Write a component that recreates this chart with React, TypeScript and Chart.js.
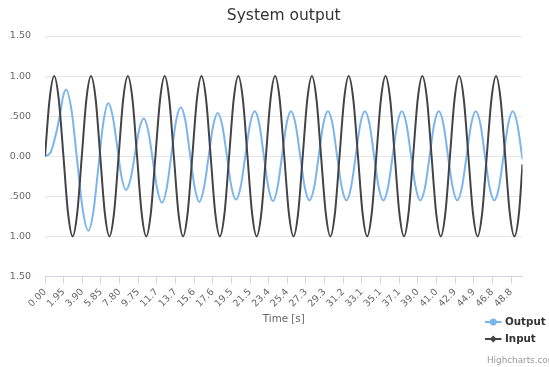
import { useEffect, useRef } from 'react';
import { Chart, registerables } from 'chart.js';

Chart.register(...registerables);

const FONT = '"DejaVu Sans", Verdana, sans-serif';

const chartTitle = 'System output';
const xAxisTitle = 'Time [s]';
const seriesNames = ['Output', 'Input'];
const seriesColors = ['#7cb5ec', '#434348'];
const creditText = 'Highcharts.com';

const xTickValues = [
  0, 1.95, 3.9, 5.85, 7.8, 9.75, 11.7, 13.65, 15.6, 17.55, 19.5, 21.45, 23.4,
  25.35, 27.3, 29.25, 31.2, 33.15, 35.1, 37.05, 39, 40.95, 42.9, 44.85, 46.8, 48.75,
];
const xTickLabels = [
  '0.00', '1.95', '3.90', '5.85', '7.80', '9.75', '11.7', '13.7', '15.6', '17.6', '19.5', '21.5', '23.4',
  '25.4', '27.3', '29.3', '31.2', '33.1', '35.1', '37.1', '39.0', '41.0', '42.9', '44.9', '46.8', '48.8',
];

const yTickValues = [-1.5, -1, -0.5, 0, 0.5, 1, 1.5];
const yTickLabels = ['1.50', '1.00', '.500', '0.00', '.500', '1.00', '1.50'];

const inputTime = [
  0, 0.48, 0.96, 1.44, 1.93, 2.41, 2.89, 3.37,
  3.85, 4.33, 4.81, 5.30, 5.78, 6.26, 6.74, 7.22,
  7.70, 8.18, 8.67, 9.15, 9.63, 10.11, 10.59, 11.07,
  11.55, 12.04, 12.52, 13.00, 13.48, 13.96, 14.44, 14.92,
  15.41, 15.89, 16.37, 16.85, 17.33, 17.81, 18.29, 18.78,
  19.26, 19.74, 20.22, 20.70, 21.18, 21.66, 22.14, 22.63,
  23.11, 23.59, 24.07, 24.55, 25.03, 25.51, 26.00, 26.48,
  26.96, 27.44, 27.92, 28.40, 28.88, 29.37, 29.85, 30.33,
  30.81, 31.29, 31.77, 32.25, 32.74, 33.22, 33.70, 34.18,
  34.66, 35.14, 35.62, 36.11, 36.59, 37.07, 37.55, 38.03,
  38.51, 38.99, 39.47, 39.96, 40.44, 40.92, 41.40, 41.88,
  42.36, 42.84, 43.33, 43.81, 44.29, 44.77, 45.25, 45.73,
  46.21, 46.70, 47.18, 47.66, 48.14, 48.62, 49.10, 49.58,
  49.95,
];
const inputValue = [
  0, 0.71, 1, 0.71, 0, -0.71, -1, -0.71,
  0, 0.71, 1, 0.71, 0, -0.71, -1, -0.71,
  0, 0.71, 1, 0.71, 0, -0.71, -1, -0.71,
  0, 0.71, 1, 0.71, 0, -0.71, -1, -0.71,
  0, 0.71, 1, 0.71, 0, -0.71, -1, -0.71,
  0, 0.71, 1, 0.71, 0, -0.71, -1, -0.71,
  0, 0.71, 1, 0.71, 0, -0.71, -1, -0.71,
  0, 0.71, 1, 0.71, 0, -0.71, -1, -0.71,
  0, 0.71, 1, 0.71, 0, -0.71, -1, -0.71,
  0, 0.71, 1, 0.71, 0, -0.71, -1, -0.71,
  0, 0.71, 1, 0.71, 0, -0.71, -1, -0.71,
  0, 0.71, 1, 0.71, 0, -0.71, -1, -0.71,
  0, 0.71, 1, 0.71, 0, -0.71, -1, -0.71,
  -0.1,
];

const outputTime = [
  0, 0.60, 1.15, 1.60, 1.90, 2.20, 2.78, 3.36, 3.95, 4.53,
  5.05, 5.58, 6.10, 6.62, 7.08, 7.55, 8.01, 8.47, 8.94, 9.40,
  9.87, 10.33, 10.81, 11.29, 11.76, 12.24, 12.73, 13.22, 13.71, 14.20,
  14.69, 15.17, 15.66, 16.14, 16.62, 17.11, 17.59, 18.07, 18.55, 19.03,
  19.50, 19.98, 20.47, 20.96, 21.45, 21.94, 22.42, 22.90, 23.37, 23.85,
  24.32, 24.79, 25.26,
  25.73, 26.21, 26.70, 27.18, 27.66, 28.15, 28.63, 29.11,
  29.60, 30.08, 30.56, 31.05, 31.53, 32.01, 32.50, 32.98,
  33.46, 33.95, 34.43, 34.91, 35.40, 35.88, 36.36, 36.85,
  37.33, 37.81, 38.30, 38.78, 39.26, 39.75, 40.23, 40.71,
  41.20, 41.68, 42.16, 42.65, 43.13, 43.61, 44.10, 44.58,
  45.06, 45.55, 46.03, 46.51, 47.00, 47.48, 47.96, 48.45,
  48.93, 49.41, 49.95,
];
const outputValue = [
  0, 0.05, 0.28, 0.54, 0.75, 0.83, 0.57, -0.05, -0.67, -0.93,
  -0.70, -0.14, 0.42, 0.66, 0.50, 0.12, -0.26, -0.42, -0.29, 0.02,
  0.34, 0.47, 0.31, -0.06, -0.42, -0.58, -0.40, 0.02, 0.44, 0.61,
  0.44, 0.02, -0.39, -0.57, -0.40, -0.01, 0.38, 0.54, 0.38, 0.00,
  -0.38, -0.54, -0.38, 0.01, 0.40, 0.56, 0.40, 0.00, -0.39, -0.56,
  -0.39, 0.00, 0.40,
  0.56, 0.40, 0.00, -0.39, -0.55, -0.39, 0.00, 0.40,
  0.56, 0.40, 0.00, -0.39, -0.55, -0.39, 0.00, 0.40,
  0.56, 0.40, 0.00, -0.39, -0.55, -0.39, 0.00, 0.40,
  0.56, 0.40, 0.00, -0.39, -0.55, -0.39, 0.00, 0.40,
  0.56, 0.40, 0.00, -0.39, -0.55, -0.39, 0.00, 0.40,
  0.56, 0.40, 0.00, -0.39, -0.55, -0.39, 0.00, 0.40,
  0.56, 0.40, -0.04,
];

const overlayPlugin = {
  id: 'overlay',
  afterDraw(chart: any) {
    const ctx = chart.ctx as CanvasRenderingContext2D;
    const area = chart.chartArea;
    ctx.save();
    // title
    ctx.font = `15.5px ${FONT}`;
    ctx.fillStyle = '#333333';
    ctx.textAlign = 'center';
    ctx.textBaseline = 'middle';
    ctx.fillText(chartTitle, (area.left + area.right) / 2, 16);

    // legend
    const lx0 = 485;
    const lx1 = 501.5;
    const rows = [322, 339];
    seriesNames.forEach((name, i) => {
      const y = rows[i];
      ctx.strokeStyle = seriesColors[i];
      ctx.lineWidth = 2;
      ctx.beginPath();
      ctx.moveTo(lx0, y);
      ctx.lineTo(lx1, y);
      ctx.stroke();
      ctx.fillStyle = seriesColors[i];
      const cx = (lx0 + lx1) / 2;
      ctx.beginPath();
      if (i === 0) {
        ctx.arc(cx, y, 3.5, 0, Math.PI * 2);
      } else {
        const r = 3.5;
        ctx.moveTo(cx, y - r);
        ctx.lineTo(cx + r, y);
        ctx.lineTo(cx, y + r);
        ctx.lineTo(cx - r, y);
        ctx.closePath();
      }
      ctx.fill();
      ctx.font = `bold 10.3px ${FONT}`;
      ctx.fillStyle = '#333333';
      ctx.textAlign = 'left';
      ctx.textBaseline = 'middle';
      ctx.fillText(name, 505, y);
    });

    // credit
    ctx.font = `8.8px ${FONT}`;
    ctx.fillStyle = '#999999';
    ctx.textAlign = 'left';
    ctx.textBaseline = 'middle';
    ctx.fillText(creditText, 487, 361);
    ctx.restore();
  },
};

export default function App() {
  const ref = useRef<HTMLCanvasElement>(null);

  useEffect(() => {
    const canvas = ref.current;
    if (!canvas) return;
    const chart = new Chart(canvas, {
      type: 'line',
      data: {
        datasets: [
          {
            label: seriesNames[0],
            data: outputTime.map((t, i) => ({ x: t, y: outputValue[i] })),
            borderColor: seriesColors[0],
            backgroundColor: seriesColors[0],
            borderWidth: 2,
            pointRadius: 0,
            cubicInterpolationMode: 'monotone',
            tension: 0.4,
            fill: false,
            order: 1,
          },
          {
            label: seriesNames[1],
            data: inputTime.map((t, i) => ({ x: t, y: inputValue[i] })),
            borderColor: seriesColors[1],
            backgroundColor: seriesColors[1],
            borderWidth: 2,
            pointRadius: 0,
            cubicInterpolationMode: 'monotone',
            tension: 0.4,
            fill: false,
            order: 0,
          },
        ],
      },
      options: {
        animation: false,
        responsive: false,
        devicePixelRatio: 1,
        layout: { padding: { top: 36, right: 26.5, left: 0, bottom: 0 } },
        plugins: {
          legend: { display: false },
          title: { display: false },
          tooltip: { enabled: false },
        },
        scales: {
          x: {
            type: 'linear',
            min: 0,
            max: 49.95,
            afterBuildTicks: (s: any) => {
              s.ticks = xTickValues.map((v) => ({ value: v }));
            },
            afterFit: (s: any) => {
              s.height = 90.5;
            },
            grid: {
              display: true,
              drawOnChartArea: false,
              drawTicks: true,
              tickLength: 7,
              color: '#ccd6eb',
              lineWidth: 1,
            },
            border: { display: true, color: '#ccd6eb', width: 1 },
            ticks: {
              autoSkip: false,
              minRotation: 45,
              maxRotation: 45,
              padding: 3,
              color: '#666666',
              font: { family: FONT, size: 9.5 },
              callback: (_v: any, i: number) => xTickLabels[i],
            },
            title: {
              display: true,
              text: xAxisTitle,
              color: '#666666',
              font: { family: FONT, size: 10.3 },
              padding: { top: 0, bottom: 41 },
            },
          },
          y: {
            type: 'linear',
            min: -1.5,
            max: 1.5,
            afterBuildTicks: (s: any) => {
              s.ticks = yTickValues.map((v) => ({ value: v }));
            },
            afterFit: (s: any) => {
              s.width = 45;
            },
            grid: {
              color: (c: any) => (c.tick && c.tick.value === -1.5 ? 'rgba(0,0,0,0)' : '#e6e6e6'),
              drawTicks: false,
              lineWidth: 1,
            },
            border: { display: false },
            ticks: {
              padding: 14,
              color: '#666666',
              font: { family: FONT, size: 9.5 },
              callback: (v: any) => {
                const i = yTickValues.indexOf(Number(v));
                return i >= 0 ? yTickLabels[i] : '';
              },
            },
          },
        },
      },
      plugins: [overlayPlugin],
    } as any);
    return () => chart.destroy();
  }, []);

  return (
    <div style={{ position: 'absolute', left: 0, top: 0, width: 549, height: 367, background: '#ffffff' }}>
      <canvas ref={ref} width={549} height={367} style={{ display: 'block' }} />
    </div>
  );
}
